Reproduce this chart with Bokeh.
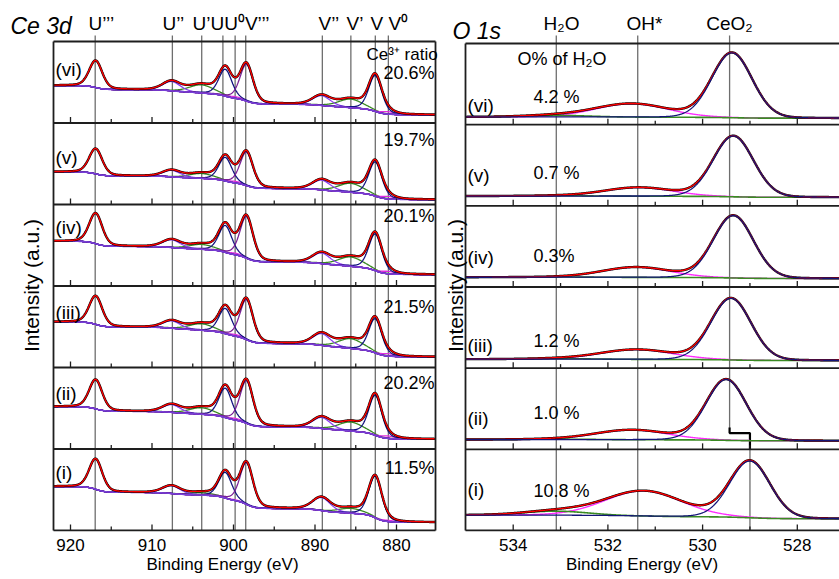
import numpy as np
from bokeh.plotting import figure
from bokeh.layouts import row
from bokeh.models import FixedTicker, Range1d
from bokeh.core.properties import value
from bokeh.embed import file_html
from bokeh.resources import INLINE

# ---------------- data ----------------
samples = ["(i)", "(ii)", "(iii)", "(iv)", "(v)", "(vi)"]
ce3_ratio = ["11.5%", "20.2%", "21.5%", "20.1%", "19.7%", "20.6%"]
h2o_percent = ["10.8 %", "1.0 %", "1.2 %", "0.3%", "0.7 %", "4.2 %"]

ce_ticks = [920, 910, 900, 890, 880]
ce_minor_ticks = [915, 905, 895, 885]
o_ticks = [534, 532, 530, 528]
o_minor_ticks = [533, 531, 529]

ce_ref_energy = [916.97, 907.5, 903.9, 901.3, 899.8, 898.5, 889.1, 885.6, 882.6, 881.0]
ce_line_labels = ["U’’’", "U’’", "U’UU⁰V’’’", "V’’", "V’", "V", "V⁰"]
o_ref_energy = [533.09, 531.37]
o_ceo2_ref = 529.43
o_ceo2_ref_i = 529.0
o_line_labels = ["H₂O", "OH*", "CeO₂"]

# Ce 3d components: centre (eV), FWHM (eV); heights per sample (i)..(vi) in panel units
ce_center = {"U3": 916.9, "U2": 907.6, "U1": 903.9, "U": 901.0, "U0": 899.7,
             "V3": 898.4, "V2": 889.2, "V1": 885.6, "V": 882.6, "V0": 881.0}
ce_fwhm = {"U3": 1.9, "U2": 2.6, "U1": 3.6, "U": 1.9, "U0": 2.0,
           "V3": 1.9, "V2": 2.6, "V1": 3.6, "V": 1.9, "V0": 2.0}
h_U3 = [0.375, 0.36, 0.35, 0.375, 0.31, 0.33]
h_U2 = [0.095, 0.095, 0.09, 0.095, 0.08, 0.115]
h_U1 = [0.03, 0.08, 0.08, 0.06, 0.06, 0.10]
h_U = [0.315, 0.36, 0.31, 0.33, 0.29, 0.33]
h_U0 = [0.01, 0.02, 0.02, 0.02, 0.02, 0.02]
h_V3 = [0.51, 0.52, 0.49, 0.51, 0.41, 0.45]
h_V2 = [0.16, 0.135, 0.145, 0.13, 0.12, 0.12]
h_V1 = [0.06, 0.11, 0.12, 0.115, 0.11, 0.105]
h_V = [0.51, 0.49, 0.42, 0.45, 0.42, 0.44]
h_V0 = [0.015, 0.03, 0.03, 0.03, 0.03, 0.03]
ce_bg_high = [0.54, 0.52, 0.56, 0.55, 0.40, 0.46]
ce_bg_low = [0.10, 0.12, 0.13, 0.14, 0.06, 0.10]

# O 1s components per sample (i)..(vi)
o_bg_low = [0.145, 0.105, 0.095, 0.105, 0.105, 0.08]
o_bg_high = [0.19, 0.12, 0.11, 0.12, 0.12, 0.095]
o_ceo2_center = [529.0, 529.5, 529.4, 529.35, 529.35, 529.38]
o_ceo2_height = [0.70, 0.75, 0.76, 0.77, 0.75, 0.80]
o_ceo2_fwhm = [1.0, 1.0, 1.0, 1.0, 1.0, 1.0]
o_oh_center = [531.25, 531.5, 531.4, 531.4, 531.35, 531.5]
o_oh_height = [0.31, 0.12, 0.12, 0.125, 0.107, 0.165]
o_oh_fwhm = [1.9, 1.8, 1.8, 1.7, 1.7, 1.8]
o_h2o_center = [533.1, 533.1, 533.1, 533.1, 533.1, 533.1]
o_h2o_height = [0.05, 0.006, 0.008, 0.003, 0.005, 0.02]
o_h2o_fwhm = [1.6, 1.6, 1.6, 1.6, 1.6, 1.6]

# ---------------- layout helpers (page pixels -> data) ----------------
Y0 = 530.0                      # page y of the lowest panel border
SPLIT = 444                     # page x where the O 1s figure starts
PL = (Y0 - 41) / 6.0
PR = (Y0 - 43) / 6.0
def LX(px): return 920 - (px - 70) / 8.15
def LY(py): return (Y0 - py) / PL
def RX(px): return 534 - (px - 512.7) / 47.35
def RY(py): return (Y0 - py) / PR

FONT = value("Liberation Sans")
C_REF = "#6e6e6e"
C_FRAME = "#1e1e1e"
FRAME_H = 531

def pv(E, c, w, h, m):
    d = (E - c) / w
    return h * (m / (1.0 + 4.0 * d * d) + (1.0 - m) * np.exp(-4.0 * np.log(2.0) * d * d))

def shirley(total, lo, hi):
    cum = np.cumsum(total)
    return lo + (hi - lo) * cum / cum[-1]

def base_fig(xr, P, fw):
    p = figure(frame_width=fw, frame_height=FRAME_H, x_range=xr,
               y_range=Range1d((Y0 - FRAME_H) / P, Y0 / P), output_backend="svg",
               toolbar_location=None, y_axis_location=None, min_border=0)
    p.outline_line_color = None
    p.grid.grid_line_color = None
    p.background_fill_color = "white"
    p.border_fill_color = "white"
    ax = p.xaxis[0]
    ax.axis_line_color = None
    ax.major_tick_in = 0
    ax.major_tick_out = 0
    ax.minor_tick_in = 0
    ax.minor_tick_out = 0
    ax.major_label_text_font = "Liberation Sans"
    ax.major_label_text_font_size = "17px"
    ax.major_label_text_color = "black"
    ax.major_label_standoff = 7
    ax.axis_label = "Binding Energy (eV)"
    ax.axis_label_text_font = "Liberation Sans"
    ax.axis_label_text_font_size = "17px"
    ax.axis_label_text_font_style = "normal"
    ax.axis_label_text_color = "black"
    ax.axis_label_standoff = 1
    return p

def txt(p, x, y, s, size, align="left", style="normal", angle=0.0):
    p.text(x=[x], y=[y], text=[s], text_font=FONT, text_font_size=size,
           text_align=align, text_baseline="middle", text_font_style=style,
           text_color="black", angle=angle)

# ======================= Ce 3d =======================
xL, xR = LX(53), LX(435)
left = base_fig(Range1d(LX(0), LX(SPLIT)), PL, SPLIT)
left.xaxis[0].ticker = FixedTicker(ticks=ce_ticks)
left.xaxis[0].bounds = (xR, xL)

left.segment(x0=ce_ref_energy, y0=[0] * len(ce_ref_energy), x1=ce_ref_energy,
             y1=[LY(35)] * len(ce_ref_energy), line_color=C_REF, line_width=1.3)

E = np.linspace(xR, xL, 1000)
heights = {"U3": h_U3, "U2": h_U2, "U1": h_U1, "U": h_U, "U0": h_U0,
           "V3": h_V3, "V2": h_V2, "V1": h_V1, "V": h_V, "V0": h_V0}
colors = {"U3": "#7a1f96", "V3": "#7a1f96", "U2": "#8a3cf2", "V2": "#8a3cf2",
          "U1": "#3a8a22", "V1": "#3a8a22", "U": "#10107e", "V": "#10107e",
          "U0": "#e02ce0", "V0": "#e02ce0"}
order = ["U1", "V1", "U0", "V0", "U2", "V2", "U", "V", "U3", "V3"]
for k in range(6):
    comps = {n: pv(E, ce_center[n], ce_fwhm[n], heights[n][k], 0.3) for n in order}
    total = sum(comps.values())
    bg = shirley(total, ce_bg_low[k], ce_bg_high[k])
    for n in order:
        left.line(E, bg + comps[n] + k, line_color=colors[n], line_width=1.3)
    left.line(E, bg + k, line_color="#7840d8", line_width=1.5)
    left.line(E, bg + total + k, line_color="black", line_width=2.4)
    left.line(E, bg + total + k, line_color="red", line_width=1.4)

left.segment(x0=[xL] * 7, y0=list(range(7)), x1=[xR] * 7, y1=list(range(7)),
             line_color=C_FRAME, line_width=1.8)
left.segment(x0=[xL, xR], y0=[0, 0], x1=[xL, xR], y1=[6, 6], line_color=C_FRAME, line_width=1.8)
tx, ty0, ty1 = [], [], []
for k in range(6):
    for t in ce_ticks:
        tx.append(t); ty0.append(k); ty1.append(k + 6 / PL)
    for t in ce_minor_ticks:
        tx.append(t); ty0.append(k); ty1.append(k + 4 / PL)
left.segment(x0=tx, y0=ty0, x1=tx, y1=ty1, line_color=C_FRAME, line_width=1.3)

txt(left, LX(10), LY(25), "Ce 3d", "23px", style="italic")
for s, px in zip(ce_line_labels, [88, 162, 192, 318, 346, 370, 388]):
    txt(left, LX(px), LY(23), s, "19px")
txt(left, LX(366), LY(54), "Ce³⁺ ratio", "17px")
for s, py in zip(ce3_ratio, [467, 382, 306, 215, 139, 72]):
    txt(left, LX(434), LY(py), s, "18px", align="right")
for s, py in zip(samples, [472, 393, 312, 227, 157, 69]):
    txt(left, LX(55), LY(py), s, "19px")
txt(left, LX(31), LY(285), "Intensity (a.u.)", "21px", align="center", angle=np.pi / 2)

# ======================= O 1s =======================
oxL = RX(465)
ox_end = RX(839)
right = base_fig(Range1d(RX(SPLIT), ox_end), PR, 839 - SPLIT)
right.xaxis[0].ticker = FixedTicker(ticks=o_ticks)
right.xaxis[0].bounds = (ox_end, oxL)

right.segment(x0=o_ref_energy, y0=[0, 0], x1=o_ref_energy, y1=[RY(35)] * 2,
              line_color=C_REF, line_width=1.3)
step_y = 1.2
right.segment(x0=[o_ceo2_ref, o_ceo2_ref_i], y0=[step_y + 0.06, 0], x1=[o_ceo2_ref, o_ceo2_ref_i],
              y1=[RY(35), 1.0], line_color=C_REF, line_width=1.3)
right.line([o_ceo2_ref, o_ceo2_ref, o_ceo2_ref_i, o_ceo2_ref_i],
           [step_y + 0.07, step_y, step_y, 1.0], line_color="black", line_width=2.2)

Eo = np.linspace(ox_end, oxL, 800)
for k in range(6):
    ceo2 = pv(Eo, o_ceo2_center[k], o_ceo2_fwhm[k], o_ceo2_height[k], 0.06)
    oh = pv(Eo, o_oh_center[k], o_oh_fwhm[k], o_oh_height[k], 0.06)
    h2o = pv(Eo, o_h2o_center[k], o_h2o_fwhm[k], o_h2o_height[k], 0.06)
    total = ceo2 + oh + h2o
    bg = shirley(total, o_bg_low[k], o_bg_high[k])
    right.line(Eo, bg + oh + k, line_color="#ff2cff", line_width=1.4)
    right.line(Eo, bg + h2o + k, line_color="#3a8a22", line_width=1.6)
    right.line(Eo, bg + total + k, line_color="black", line_width=2.4)
    right.line(Eo, bg + total + k, line_color="red", line_width=1.4)
    right.line(Eo, bg + ceo2 + k, line_color="#141478", line_width=1.3)

right.segment(x0=[oxL] * 7, y0=list(range(7)), x1=[ox_end] * 7, y1=list(range(7)),
              line_color=C_FRAME, line_width=1.8)
right.segment(x0=[oxL], y0=[0], x1=[oxL], y1=[6], line_color=C_FRAME, line_width=1.8)
tx, ty0, ty1 = [], [], []
for k in range(6):
    for t in o_ticks:
        tx.append(t); ty0.append(k); ty1.append(k + 6 / PR)
    for t in o_minor_ticks:
        tx.append(t); ty0.append(k); ty1.append(k + 4 / PR)
right.segment(x0=tx, y0=ty0, x1=tx, y1=ty1, line_color=C_FRAME, line_width=1.3)

txt(right, RX(452), RY(30), "O 1s", "23px", style="italic")
for s, px in zip(o_line_labels, [561, 644, 729]):
    txt(right, RX(px), RY(23), s, "19px", align="center")
txt(right, RX(517), RY(58), "O% of H₂O", "18px")
for s, py in zip(h2o_percent, [490, 412, 340, 255, 172, 96]):
    txt(right, RX(533), RY(py), s, "18px")
for s, py in zip(samples, [489, 418, 345, 257, 175, 105]):
    txt(right, RX(467), RY(py), s, "19px")
txt(right, RX(455), RY(285), "Intensity (a.u.)", "21px", align="center", angle=np.pi / 2)

layout = row(left, right, spacing=0)
open("out.html", "w").write(file_html(layout, INLINE, "XPS Ce 3d and O 1s"))
